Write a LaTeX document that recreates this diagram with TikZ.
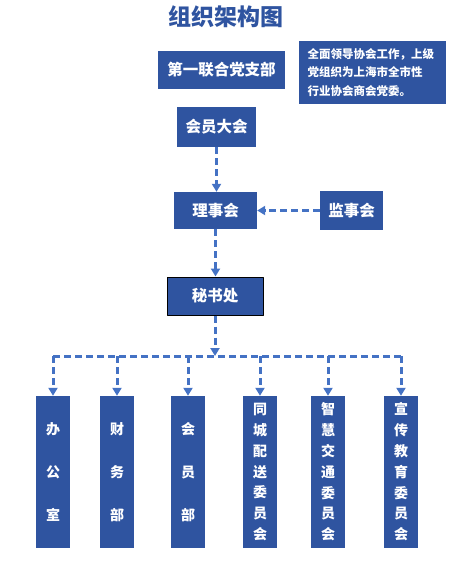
\documentclass[tikz,border=0pt]{standalone}
\usepackage{fontspec}
\newfontfamily\cjk{Noto Sans CJK SC}
\usetikzlibrary{arrows.meta}
\definecolor{boxblue}{HTML}{2F54A0}
\definecolor{linkblue}{HTML}{4472C4}
\begin{document}
\begin{tikzpicture}[x=1pt,y=-1pt,line join=round,
	box/.style={fill=boxblue,text=white,inner sep=0pt,font=\cjk\bfseries\fontsize{15.5}{18}\selectfont},
	linkline/.style={draw=linkblue,line width=3pt,dash pattern=on 7pt off 4pt},
	link/.style={linkline,-{Triangle[length=8pt,width=9pt]}}]
	\useasboundingbox (0,0) rectangle (473,566);
	\node[font=\cjk\bfseries\fontsize{23}{26}\selectfont,text=boxblue] (title) at (226,17) {组织架构图};
	\node[box,minimum width=127pt,minimum height=38pt] (dangzhibu) at (221.5,70) {第一联合党支部};
	\node[box,minimum height=63pt,text width=130pt,inner xsep=8.5pt,align=left,
		font=\cjk\bfseries\fontsize{11.5}{18.5}\selectfont] (note) at (372.5,72.5)
		{全面领导协会工作，上级\\党组织为上海市全市性\\行业协会商会党委。};
	\node[box,minimum width=79pt,minimum height=40pt] (huiyuan) at (216.5,127) {会员大会};
	\node[box,minimum width=83pt,minimum height=37pt] (lishi) at (215.5,210.5) {理事会};
	\node[box,minimum width=63pt,minimum height=39pt] (jianshi) at (351.5,210.5) {监事会};
	\node[box,draw=black,line width=1pt,minimum width=96pt,minimum height=38pt] (mishu) at (215,296) {秘书处};
	\coordinate (bus) at (217,356);
	\foreach \i/\x/\t/\gap in {1/53/{办\\公\\室}/43,2/117/{财\\务\\部}/43,3/188/{会\\员\\部}/43,
		4/260/{同\\城\\配\\送\\委\\员\\会}/20.8,5/328/{智\\慧\\交\\通\\委\\员\\会}/20.8,
		6/401/{宣\\传\\教\\育\\委\\员\\会}/20.8}
	\node[box,minimum width=34pt,minimum height=152pt,align=center,
		font=\cjk\bfseries\fontsize{14}{\gap}\selectfont] (b\i) at (\x,472) {\t};
	\draw[link] (huiyuan.south) -- (huiyuan.south |- lishi.north);
	\draw[link] (jianshi.west) -- (lishi.east);
	\draw[link] (lishi.south) -- (lishi.south |- mishu.north);
	\draw[link] (mishu.south) -- (mishu.south |- bus);
	\draw[linkline] (b1 |- bus) -- (b6 |- bus);
	\foreach \i in {1,...,6}
	\draw[link] (b\i |- bus) -- (b\i.north);
\end{tikzpicture}
\end{document}
